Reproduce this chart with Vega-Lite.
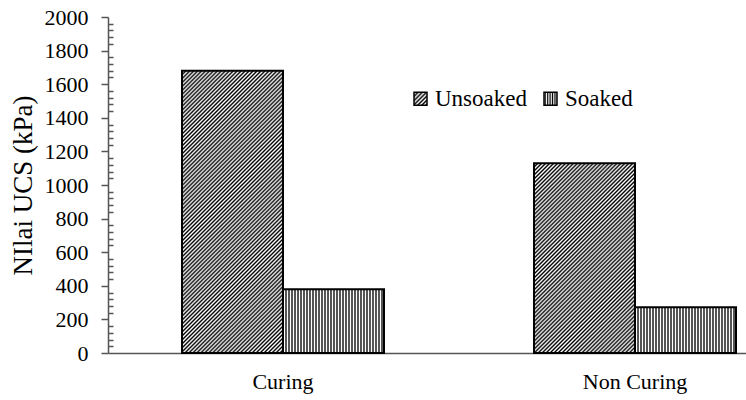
{
 "$schema": "https://vega.github.io/schema/vega-lite/v6.json",
 "width": 638,
 "height": 336,
 "autosize": {"type": "none"},
 "padding": {"left": 108, "top": 17, "right": 0, "bottom": 47},
 "background": "white",
 "config": {
  "view": {"stroke": null},
  "font": "Liberation Serif",
  "axis": {"labelFont": "Liberation Serif", "titleFont": "Liberation Serif", "labelColor": "black", "titleColor": "black"},
  "legend": {"labelFont": "Liberation Serif", "titleFont": "Liberation Serif"}
 },
 "params": [
  {"name": "st", "value": [
{"offset":0,"color":"#000"},{"offset":0.005,"color":"#fff"},{"offset":0.01,"color":"#000"},{"offset":0.015,"color":"#fff"},{"offset":0.02,"color":"#000"},{"offset":0.025,"color":"#fff"},{"offset":0.03,"color":"#000"},{"offset":0.035,"color":"#fff"},{"offset":0.04,"color":"#000"},{"offset":0.045,"color":"#fff"},
{"offset":0.05,"color":"#000"},{"offset":0.055,"color":"#fff"},{"offset":0.06,"color":"#000"},{"offset":0.065,"color":"#fff"},{"offset":0.07,"color":"#000"},{"offset":0.075,"color":"#fff"},{"offset":0.08,"color":"#000"},{"offset":0.085,"color":"#fff"},{"offset":0.09,"color":"#000"},{"offset":0.095,"color":"#fff"},
{"offset":0.1,"color":"#000"},{"offset":0.105,"color":"#fff"},{"offset":0.11,"color":"#000"},{"offset":0.115,"color":"#fff"},{"offset":0.12,"color":"#000"},{"offset":0.125,"color":"#fff"},{"offset":0.13,"color":"#000"},{"offset":0.135,"color":"#fff"},{"offset":0.14,"color":"#000"},{"offset":0.145,"color":"#fff"},
{"offset":0.15,"color":"#000"},{"offset":0.155,"color":"#fff"},{"offset":0.16,"color":"#000"},{"offset":0.165,"color":"#fff"},{"offset":0.17,"color":"#000"},{"offset":0.175,"color":"#fff"},{"offset":0.18,"color":"#000"},{"offset":0.185,"color":"#fff"},{"offset":0.19,"color":"#000"},{"offset":0.195,"color":"#fff"},
{"offset":0.2,"color":"#000"},{"offset":0.205,"color":"#fff"},{"offset":0.21,"color":"#000"},{"offset":0.215,"color":"#fff"},{"offset":0.22,"color":"#000"},{"offset":0.225,"color":"#fff"},{"offset":0.23,"color":"#000"},{"offset":0.235,"color":"#fff"},{"offset":0.24,"color":"#000"},{"offset":0.245,"color":"#fff"},
{"offset":0.25,"color":"#000"},{"offset":0.255,"color":"#fff"},{"offset":0.26,"color":"#000"},{"offset":0.265,"color":"#fff"},{"offset":0.27,"color":"#000"},{"offset":0.275,"color":"#fff"},{"offset":0.28,"color":"#000"},{"offset":0.285,"color":"#fff"},{"offset":0.29,"color":"#000"},{"offset":0.295,"color":"#fff"},
{"offset":0.3,"color":"#000"},{"offset":0.305,"color":"#fff"},{"offset":0.31,"color":"#000"},{"offset":0.315,"color":"#fff"},{"offset":0.32,"color":"#000"},{"offset":0.325,"color":"#fff"},{"offset":0.33,"color":"#000"},{"offset":0.335,"color":"#fff"},{"offset":0.34,"color":"#000"},{"offset":0.345,"color":"#fff"},
{"offset":0.35,"color":"#000"},{"offset":0.355,"color":"#fff"},{"offset":0.36,"color":"#000"},{"offset":0.365,"color":"#fff"},{"offset":0.37,"color":"#000"},{"offset":0.375,"color":"#fff"},{"offset":0.38,"color":"#000"},{"offset":0.385,"color":"#fff"},{"offset":0.39,"color":"#000"},{"offset":0.395,"color":"#fff"},
{"offset":0.4,"color":"#000"},{"offset":0.405,"color":"#fff"},{"offset":0.41,"color":"#000"},{"offset":0.415,"color":"#fff"},{"offset":0.42,"color":"#000"},{"offset":0.425,"color":"#fff"},{"offset":0.43,"color":"#000"},{"offset":0.435,"color":"#fff"},{"offset":0.44,"color":"#000"},{"offset":0.445,"color":"#fff"},
{"offset":0.45,"color":"#000"},{"offset":0.455,"color":"#fff"},{"offset":0.46,"color":"#000"},{"offset":0.465,"color":"#fff"},{"offset":0.47,"color":"#000"},{"offset":0.475,"color":"#fff"},{"offset":0.48,"color":"#000"},{"offset":0.485,"color":"#fff"},{"offset":0.49,"color":"#000"},{"offset":0.495,"color":"#fff"},
{"offset":0.5,"color":"#000"},{"offset":0.505,"color":"#fff"},{"offset":0.51,"color":"#000"},{"offset":0.515,"color":"#fff"},{"offset":0.52,"color":"#000"},{"offset":0.525,"color":"#fff"},{"offset":0.53,"color":"#000"},{"offset":0.535,"color":"#fff"},{"offset":0.54,"color":"#000"},{"offset":0.545,"color":"#fff"},
{"offset":0.55,"color":"#000"},{"offset":0.555,"color":"#fff"},{"offset":0.56,"color":"#000"},{"offset":0.565,"color":"#fff"},{"offset":0.57,"color":"#000"},{"offset":0.575,"color":"#fff"},{"offset":0.58,"color":"#000"},{"offset":0.585,"color":"#fff"},{"offset":0.59,"color":"#000"},{"offset":0.595,"color":"#fff"},
{"offset":0.6,"color":"#000"},{"offset":0.605,"color":"#fff"},{"offset":0.61,"color":"#000"},{"offset":0.615,"color":"#fff"},{"offset":0.62,"color":"#000"},{"offset":0.625,"color":"#fff"},{"offset":0.63,"color":"#000"},{"offset":0.635,"color":"#fff"},{"offset":0.64,"color":"#000"},{"offset":0.645,"color":"#fff"},
{"offset":0.65,"color":"#000"},{"offset":0.655,"color":"#fff"},{"offset":0.66,"color":"#000"},{"offset":0.665,"color":"#fff"},{"offset":0.67,"color":"#000"},{"offset":0.675,"color":"#fff"},{"offset":0.68,"color":"#000"},{"offset":0.685,"color":"#fff"},{"offset":0.69,"color":"#000"},{"offset":0.695,"color":"#fff"},
{"offset":0.7,"color":"#000"},{"offset":0.705,"color":"#fff"},{"offset":0.71,"color":"#000"},{"offset":0.715,"color":"#fff"},{"offset":0.72,"color":"#000"},{"offset":0.725,"color":"#fff"},{"offset":0.73,"color":"#000"},{"offset":0.735,"color":"#fff"},{"offset":0.74,"color":"#000"},{"offset":0.745,"color":"#fff"},
{"offset":0.75,"color":"#000"},{"offset":0.755,"color":"#fff"},{"offset":0.76,"color":"#000"},{"offset":0.765,"color":"#fff"},{"offset":0.77,"color":"#000"},{"offset":0.775,"color":"#fff"},{"offset":0.78,"color":"#000"},{"offset":0.785,"color":"#fff"},{"offset":0.79,"color":"#000"},{"offset":0.795,"color":"#fff"},
{"offset":0.8,"color":"#000"},{"offset":0.805,"color":"#fff"},{"offset":0.81,"color":"#000"},{"offset":0.815,"color":"#fff"},{"offset":0.82,"color":"#000"},{"offset":0.825,"color":"#fff"},{"offset":0.83,"color":"#000"},{"offset":0.835,"color":"#fff"},{"offset":0.84,"color":"#000"},{"offset":0.845,"color":"#fff"},
{"offset":0.85,"color":"#000"},{"offset":0.855,"color":"#fff"},{"offset":0.86,"color":"#000"},{"offset":0.865,"color":"#fff"},{"offset":0.87,"color":"#000"},{"offset":0.875,"color":"#fff"},{"offset":0.88,"color":"#000"},{"offset":0.885,"color":"#fff"},{"offset":0.89,"color":"#000"},{"offset":0.895,"color":"#fff"},
{"offset":0.9,"color":"#000"},{"offset":0.905,"color":"#fff"},{"offset":0.91,"color":"#000"},{"offset":0.915,"color":"#fff"},{"offset":0.92,"color":"#000"},{"offset":0.925,"color":"#fff"},{"offset":0.93,"color":"#000"},{"offset":0.935,"color":"#fff"},{"offset":0.94,"color":"#000"},{"offset":0.945,"color":"#fff"},
{"offset":0.95,"color":"#000"},{"offset":0.955,"color":"#fff"},{"offset":0.96,"color":"#000"},{"offset":0.965,"color":"#fff"},{"offset":0.97,"color":"#000"},{"offset":0.975,"color":"#fff"},{"offset":0.98,"color":"#000"},{"offset":0.985,"color":"#fff"},{"offset":0.99,"color":"#000"},{"offset":0.995,"color":"#fff"},
{"offset":1,"color":"#000"}
  ]},
  {"name": "gA", "expr": "{gradient: 'linear', x1: 0, y1: 0, x2: 0.445, y2: 1.2435, stops: st}"},
  {"name": "gB", "expr": "{gradient: 'linear', x1: 0, y1: 0, x2: 0.8649, y2: 1.6257, stops: st}"},
  {"name": "gL", "expr": "{gradient: 'linear', x1: 0, y1: 0, x2: 16, y2: 16, stops: st}"},
  {"name": "gV", "expr": "{gradient: 'linear', x1: 0, y1: 0, x2: 2.97, y2: 0, stops: st}"}
 ],
 "data": {"values": [
  {"cond": "Curing", "type": "Unsoaked", "ucs": 1680},
  {"cond": "Curing", "type": "Soaked", "ucs": 380},
  {"cond": "Non Curing", "type": "Unsoaked", "ucs": 1130},
  {"cond": "Non Curing", "type": "Soaked", "ucs": 272}
 ]},
 "mark": {"type": "bar", "stroke": "black", "strokeWidth": 2},
 "encoding": {
  "x": {"field": "cond", "type": "nominal", "sort": ["Curing", "Non Curing"],
   "scale": {"range": [0, 702], "paddingInner": 0.42614, "paddingOuter": 0.21023},
   "axis": {"title": null, "ticks": false, "labelAngle": 0, "labelPadding": 18, "labelFontSize": 22, "labelFont": "Liberation Serif", "labelColor": "black", "domainColor": "#555", "domainWidth": 1.5, "grid": false}},
  "xOffset": {"field": "type", "type": "nominal", "sort": ["Unsoaked", "Soaked"], "scale": {"paddingInner": 0, "paddingOuter": 0}},
  "y": {"field": "ucs", "type": "quantitative", "scale": {"domain": [0, 2000], "nice": false},
   "axis": {"title": "NIlai UCS (kPa)", "format": "d",
    "values": [0,40,80,120,160,200,240,280,320,360,400,440,480,520,560,600,640,680,720,760,800,840,880,920,960,1000,1040,1080,1120,1160,1200,1240,1280,1320,1360,1400,1440,1480,1520,1560,1600,1640,1680,1720,1760,1800,1840,1880,1920,1960,2000],
    "labelExpr": "datum.value % 200 === 0 ? datum.label : ''",
    "labelOverlap": false,
    "tickSize": {"condition": {"test": "datum.value % 200 === 0", "value": 7}, "value": -5},
    "labelPadding": 13, "domainColor": "#555", "domainWidth": 1.5, "tickColor": "#555", "tickWidth": 1.5,
    "labelFontSize": 22, "labelColor": "black", "labelFont": "Liberation Serif",
    "titleFont": "Liberation Serif", "titleFontSize": 27, "titleFontWeight": "normal", "titleColor": "black", "titlePadding": 7, "grid": false}},
  "fill": {"field": "type", "type": "nominal",
   "scale": {"domain": ["Unsoaked", "Soaked"], "range": [{"expr": "gL"}, {"expr": "gV"}]},
   "condition": [
    {"test": "datum.cond === 'Non Curing' && datum.type === 'Unsoaked'", "value": {"expr": "gB"}},
    {"test": "datum.cond === 'Curing' && datum.type === 'Unsoaked'", "value": {"expr": "gA"}}
   ],
   "legend": {"title": null, "orient": "none", "legendX": 301, "legendY": 70, "direction": "horizontal", "symbolType": "square", "symbolSize": 169, "symbolStrokeColor": "black", "symbolStrokeWidth": 1.5, "symbolOpacity": 1, "labelFont": "Liberation Serif", "labelFontSize": 23, "labelColor": "black", "labelOffset": 3, "columnPadding": 12}}
 }
}
